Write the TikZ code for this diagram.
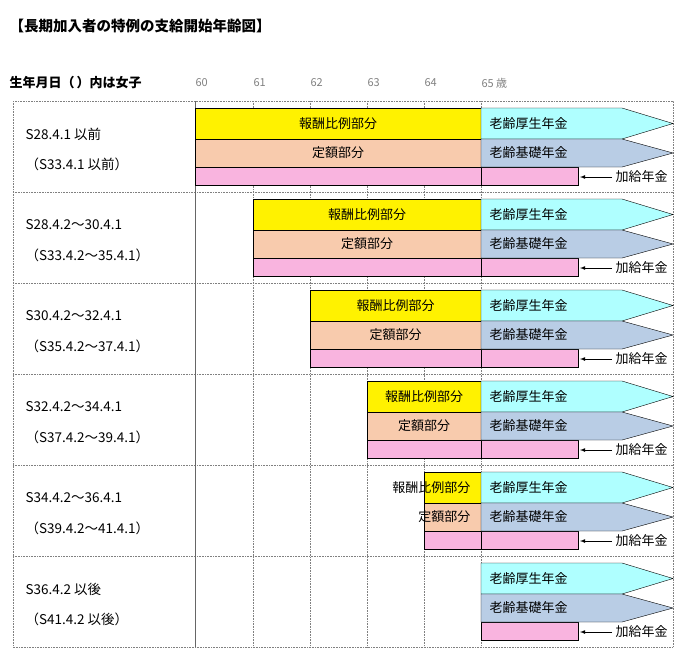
\documentclass[tikz,border=0pt]{standalone}
\usepackage{fontspec}
\setmainfont{Noto Sans CJK JP}
\definecolor{cyb}{HTML}{AFFFFF}
\definecolor{stb}{HTML}{B9CDE5}
\definecolor{orb}{HTML}{F8CBAD}
\definecolor{pkb}{HTML}{F9B4DF}
\begin{document}
\begin{tikzpicture}[x=1pt,y=-1pt,
  yel/.style={draw=black,fill=yellow},
  ora/.style={draw=black,fill=orb},
  pnk/.style={draw=black,fill=pkb},
  cya/.style={draw=black,fill=cyb},
  blu/.style={draw=black,fill=stb},
  txt/.style={font=\fontsize{13}{13}\selectfont},
  lbl/.style={font=\fontsize{13.5}{13.5}\selectfont},
  grid/.style={gray,densely dotted,line width=0.6pt}]
\useasboundingbox (0,0) rectangle (700,657);
\node[anchor=west,font=\bfseries\fontsize{14.5}{14.5}\selectfont] (title) at (6,26) {【長期加入者の特例の支給開始年齢図】};
\node[anchor=west,font=\bfseries\fontsize{13}{13}\selectfont] (hdr) at (6,83) {生年月日（\,）内は女子};
\foreach \a/\x in {60/195,61/253,62/310,63/367,64/424}
  \node[anchor=west,gray,font=\fontsize{11}{11}\selectfont] (ax\a) at (\x-3,83) {\a};
\node[anchor=west,gray,font=\fontsize{11}{11}\selectfont] (ax65) at (478,83) {65 歳};
% grid
\draw[grid] (13,101) rectangle (673,647);
\foreach \y in {192,283,374,465,556} \draw[grid] (13,\y) -- (673,\y);
\foreach \x in {253,310,367,424,481} \draw[grid] (\x,101) -- (\x,647);
\draw[gray!80!black,line width=0.6pt] (195,101) -- (195,647);
\newcommand\arrowbar[3]{%
  \draw[#3] (481,#1) -- (622,#1) -- (673,{(#1+#2)/2}) -- (622,#2) -- (481,#2) -- cycle;}
\foreach \i/\s/\la/\lb in {0/195/S28.4.1 以前/（S33.4.1 以前）,
   1/253/S28.4.2〜30.4.1/（S33.4.2〜35.4.1）,
   2/310/S30.4.2〜32.4.1/（S35.4.2〜37.4.1）,
   3/367/S32.4.2〜34.4.1/（S37.4.2〜39.4.1）,
   4/424/S34.4.2〜36.4.1/（S39.4.2〜41.4.1）,
   5/481/S36.4.2 以後/（S41.4.2 以後）}{
  \pgfmathsetmacro\t{101+91*\i}
  \node[anchor=west,lbl] (la\i) at (22,\t+33) {\la};
  \node[anchor=west,lbl] (lb\i) at (22,\t+63) {\lb};
  \ifnum\i<5
    \draw[yel] (\s,\t+7) rectangle (481,\t+38);
    \draw[ora] (\s,\t+38) rectangle (481,\t+66);
  \fi
  \draw[pnk] (\s,\t+66) rectangle (578,\t+84);
  \ifnum\i<5 \draw (481,\t+66) -- (481,\t+84); \fi
  \arrowbar{\t+7}{\t+38}{cya}
  \arrowbar{\t+38}{\t+66}{blu}
  \node[anchor=west,txt] (ko\i) at (486,\t+22.5) {老齢厚生年金};
  \node[anchor=west,txt] (ki\i) at (486,\t+52) {老齢基礎年金};
  \node[anchor=west,txt] (ka\i) at (612,\t+76) {加給年金};
  \draw[-latex,thick] (ka\i.west) -- (580,\t+76);
}
\foreach \i/\s in {0/195,1/253,2/310,3/367}{
  \pgfmathsetmacro\t{101+91*\i}
  \node[txt] (h\i) at ({(\s+481)/2},\t+22.5) {報酬比例部分};
  \node[txt] (t\i) at ({(\s+481)/2},\t+52) {定額部分};
}
\node[txt,anchor=east] (h4) at (474,465+22.5) {報酬比例部分};
\node[txt,anchor=east] (t4) at (474,465+52) {定額部分};
\end{tikzpicture}
\end{document}
